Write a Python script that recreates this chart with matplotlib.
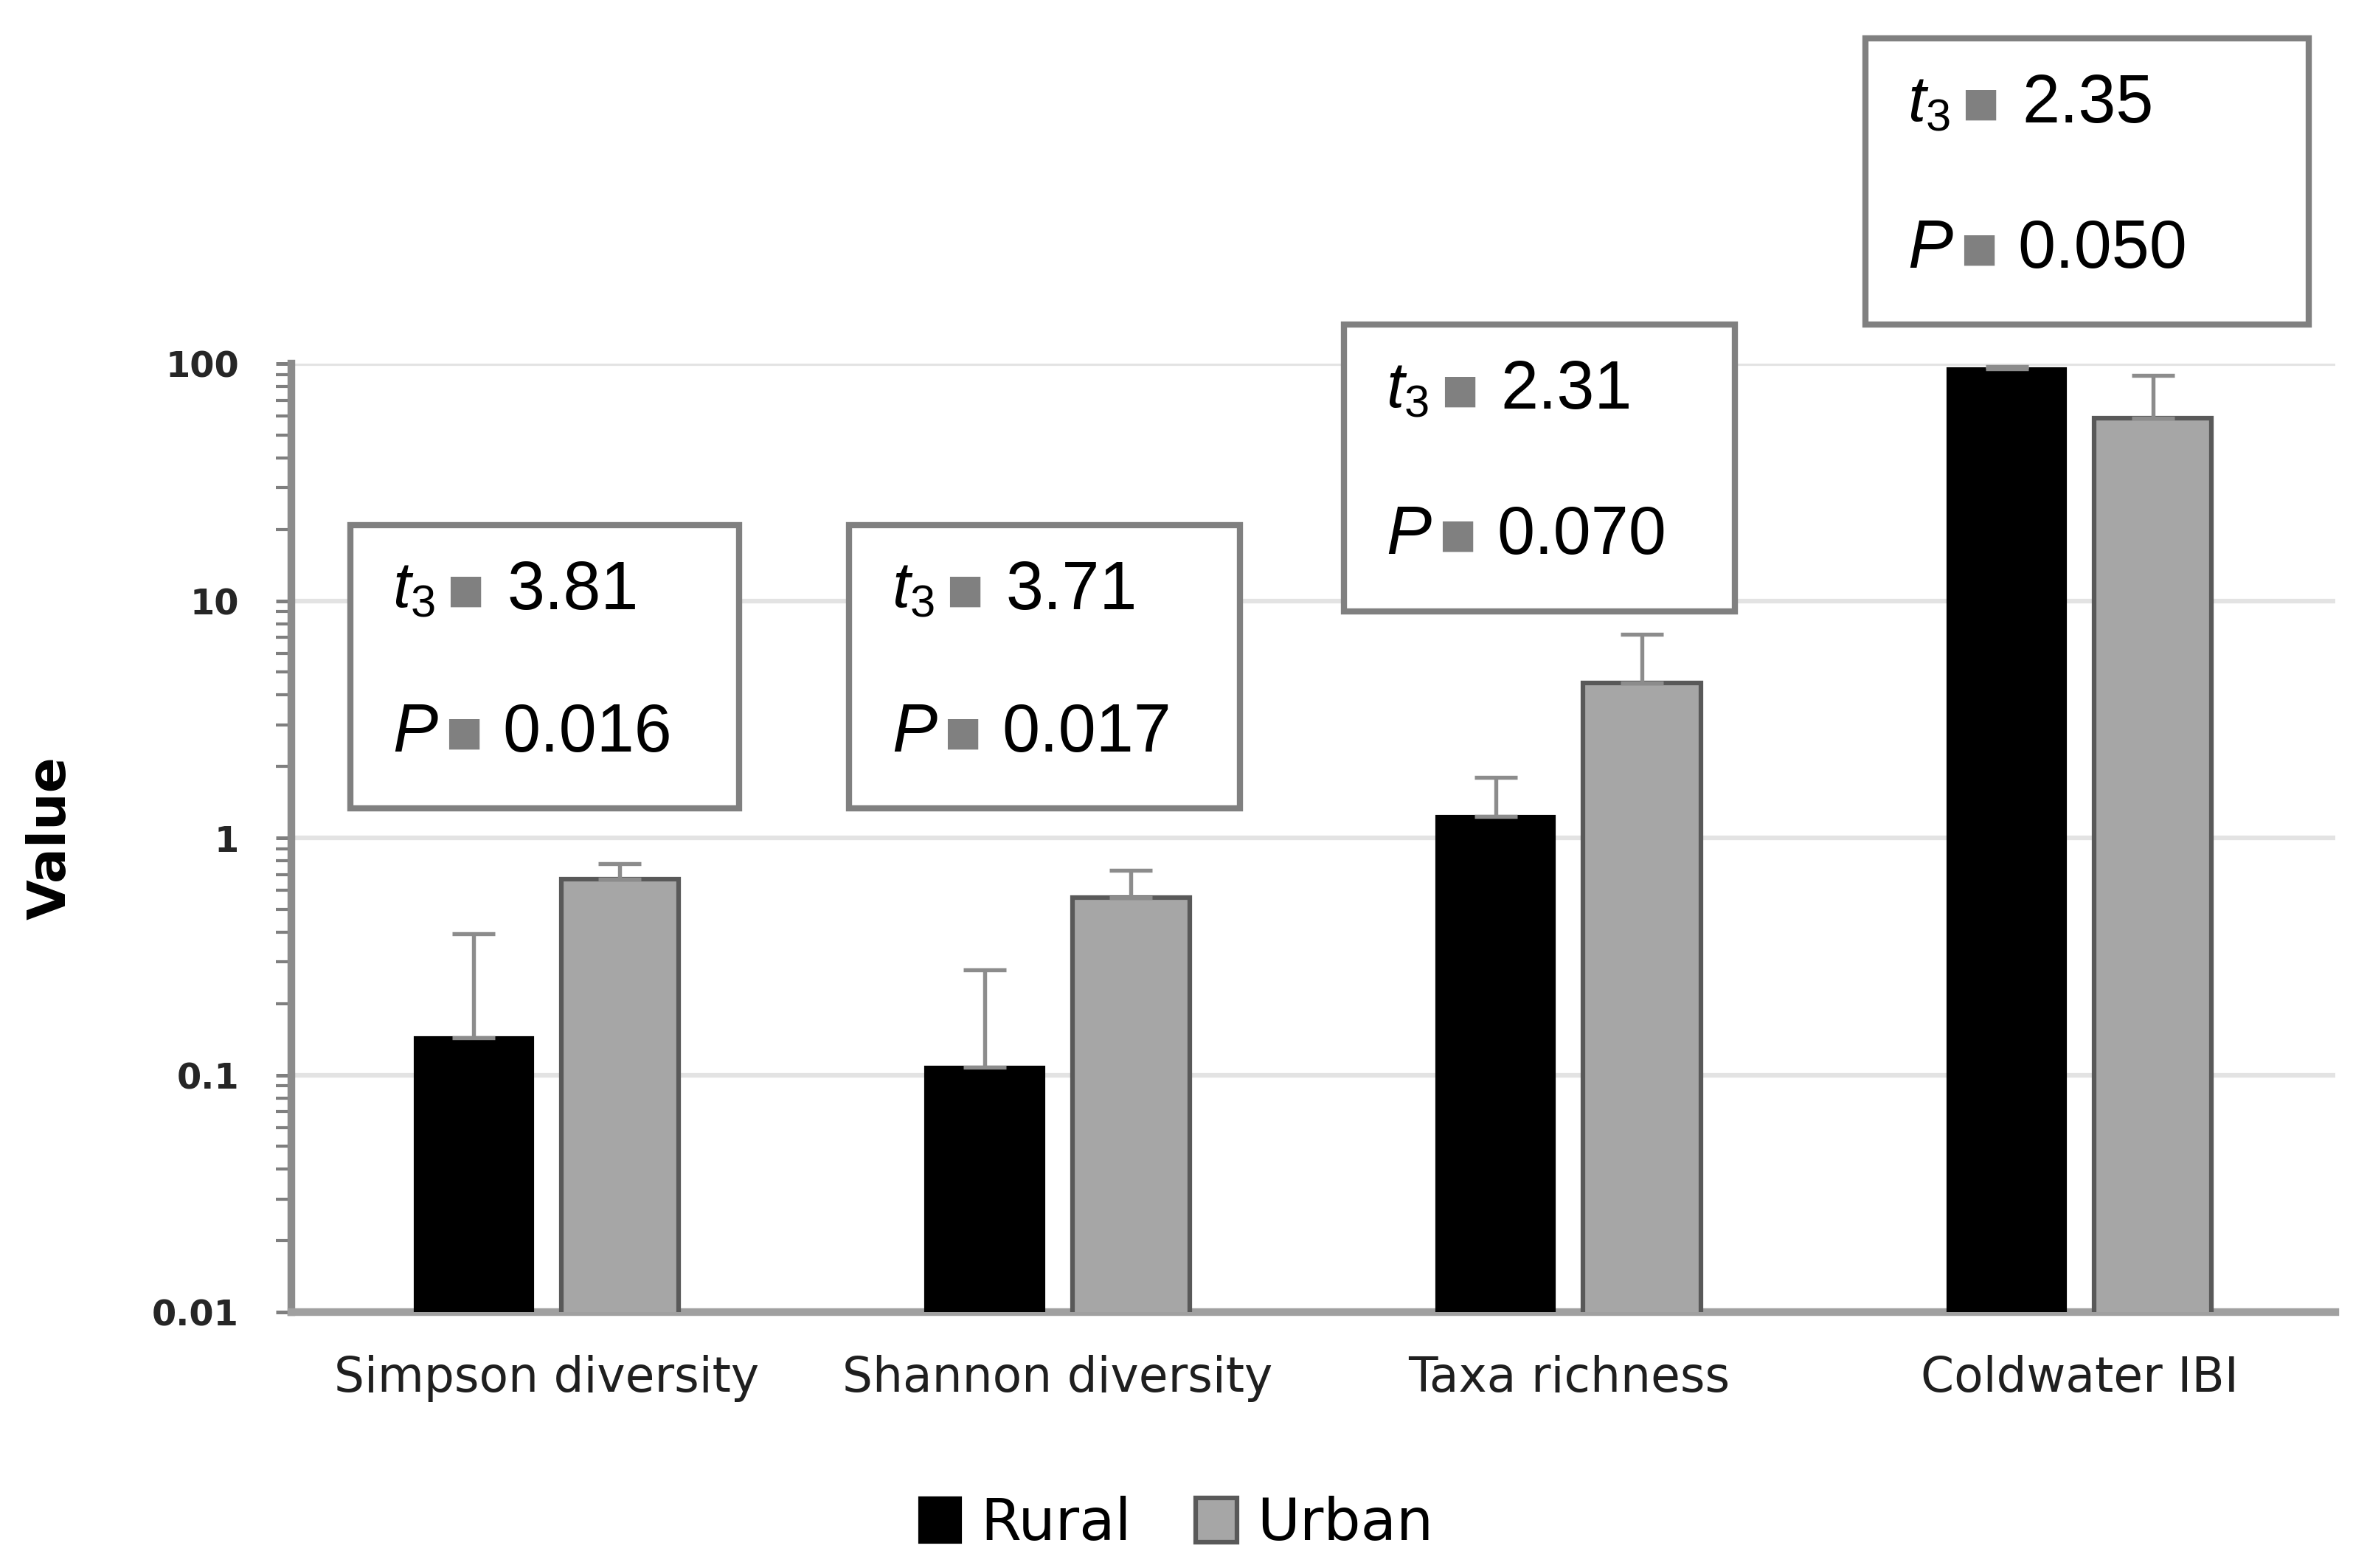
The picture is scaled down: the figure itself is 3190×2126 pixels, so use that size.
import numpy as np
import matplotlib.pyplot as plt
from matplotlib.patches import Rectangle, Patch

plt.rcParams['font.family'] = ['Liberation Sans', 'DejaVu Sans']
plt.rcParams['mathtext.fontset'] = 'custom'
plt.rcParams['mathtext.rm'] = 'Liberation Sans'
plt.rcParams['mathtext.it'] = 'Liberation Sans:italic'

# datos
categorias = ["Simpson diversity", "Shannon diversity", "Taxa richness", "Coldwater IBI"]
rural = [0.144, 0.108, 1.23, 95.0]
rural_err = [0.25, 0.17, 0.57, 2.0]
urban = [0.67, 0.56, 4.5, 59.0]
urban_err = [0.11, 0.17, 2.7, 30.0]
t_vals = ["3.81", "3.71", "2.31", "2.35"]
p_vals = ["0.016", "0.017", "0.070", "0.050"]
yticks = [0.01, 0.1, 1, 10, 100]
ytick_labels = ["0.01", "0.1", "1", "10", "100"]

fig = plt.figure(figsize=(3190 / 300, 2126 / 300), dpi=300)
ax = fig.add_axes([0.1238, 0.1632, 0.9925 - 0.1238, 0.7681 - 0.1632])

x = np.arange(len(categorias))
w = 0.23
off = 0.143

ax.bar(x - off, rural, w, color="black", edgecolor="black", linewidth=1, label="Rural", zorder=3)
ax.bar(x + off, urban, w, color="#a6a6a6", edgecolor="#595959", linewidth=1.5, label="Urban", zorder=3)
ax.errorbar(x - off, rural, yerr=[np.zeros(4), rural_err], fmt="none", ecolor="#8c8c8c",
            elinewidth=1.3, capsize=7, capthick=1.3, zorder=4)
ax.errorbar(x + off, urban, yerr=[np.zeros(4), urban_err], fmt="none", ecolor="#8c8c8c",
            elinewidth=1.3, capsize=7, capthick=1.3, zorder=4)

ax.set_yscale("log")
ax.set_ylim(0.01, 100)
ax.set_xlim(-0.5, 3.5)
ax.set_yticks(yticks)
ax.set_yticklabels(ytick_labels, fontsize=11.5, fontweight="bold", color="#262626", family="DejaVu Sans")
ax.tick_params(axis="y", which="major", length=5, width=1.2, color="#7f7f7f", direction="out", pad=12)
ax.tick_params(axis="y", which="minor", length=5, width=1.0, color="#7f7f7f", direction="out")
ax.set_xticks(x)
ax.set_xticklabels(categorias, fontsize=15.5, color="#1f1f1f", family="DejaVu Sans")
ax.tick_params(axis="x", length=0, pad=14)

ax.grid(axis="y", which="major", color="#e3e3e3", linewidth=1.5, zorder=0)
for s in ["top", "right"]:
    ax.spines[s].set_visible(False)
ax.spines["left"].set_color("#8c8c8c")
ax.spines["left"].set_linewidth(2.5)
ax.spines["bottom"].set_color("#a0a0a0")
ax.spines["bottom"].set_linewidth(2.5)

ax.set_ylabel("Value", fontsize=17, fontweight="bold", family="DejaVu Sans")
ax.yaxis.set_label_coords(-0.105, 0.5)

# cuadros con t y P (fraccion de ejes)
cajas = [(0.0288, 0.531, 0.1904, 0.299),
         (0.2730, 0.531, 0.1911, 0.299),
         (0.5150, 0.739, 0.1911, 0.302),
         (0.7700, 1.041, 0.2170, 0.302)]
for i, (bx, by, bw, bh) in enumerate(cajas):
    ax.add_patch(Rectangle((bx, by), bw, bh, transform=ax.transAxes, facecolor="white",
                           edgecolor="#808080", linewidth=2, clip_on=False, zorder=5))
    tx = bx + 0.0207
    y1 = by + bh - 0.070
    y2 = by + 0.079
    ax.text(tx, y1, r"$t_3$", transform=ax.transAxes, fontsize=21, va="center", zorder=6)
    ax.text(tx + 0.0265, y1, "\u25a0", transform=ax.transAxes, fontsize=13, va="center",
            color="#808080", family="DejaVu Sans", zorder=6)
    ax.text(tx + 0.0560, y1, t_vals[i], transform=ax.transAxes, fontsize=22, va="center", zorder=6)
    ax.text(tx, y2, r"$P$", transform=ax.transAxes, fontsize=22, va="center", zorder=6)
    ax.text(tx + 0.0255, y2, "\u25a0", transform=ax.transAxes, fontsize=13, va="center",
            color="#808080", family="DejaVu Sans", zorder=6)
    ax.text(tx + 0.0540, y2, p_vals[i], transform=ax.transAxes, fontsize=22, va="center", zorder=6)

handles = [Patch(facecolor="black", edgecolor="black", label="Rural"),
           Patch(facecolor="#a6a6a6", edgecolor="#595959", linewidth=1.5, label="Urban")]
fig.legend(handles=handles, loc="center", bbox_to_anchor=(0.5, 0.028), ncol=2, frameon=False,
           handlelength=0.7, handleheight=0.8, handletextpad=0.35, columnspacing=1.1,
           prop={"family": "DejaVu Sans", "size": 19})

fig.savefig("out.png", dpi=300, facecolor="white")
